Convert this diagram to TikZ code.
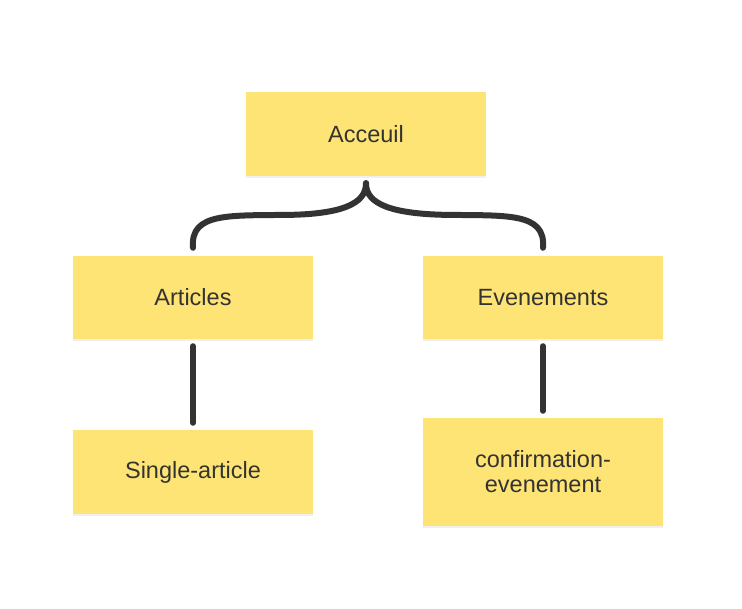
\documentclass[tikz,border=0pt]{standalone}
\usepackage{fontspec}
\setmainfont{Liberation Sans}
\usetikzlibrary{calc,shadows}
\definecolor{notejaune}{HTML}{FEE474}
\definecolor{encre}{HTML}{333333}
\begin{document}
\begin{tikzpicture}[x=1pt, y=-1pt,
    page/.style={fill=notejaune, minimum width=240pt, minimum height=84pt, inner sep=0pt,
      align=center, text=encre, font=\fontsize{23.5}{25}\selectfont,
      drop shadow={opacity=0.12, shadow xshift=0pt, shadow yshift=-2pt}},
    lien/.style={draw=encre, line width=6pt, line cap=round}]
    \useasboundingbox (0,0) rectangle (742,609);

    \node[page] (acc) at (366,134) {Acceuil};
    \node[page, minimum height=83pt] (art) at (193,297.5) {Articles};
    \node[page, minimum height=83pt] (evt) at (543,297.5) {Evenements};
    \node[page] (single) at (193,472) {Single-article};
    \node[page, minimum height=108pt] (conf) at (543,472) {confirmation-\\evenement};

    % accolade sous l'accueil
    \coordinate (pointe) at ($(acc.south)+(0,7)$);
    \coordinate (gauche) at ($(art.north)+(0,-8)$);
    \coordinate (droite) at ($(evt.north)+(0,-8)$);
    \draw[lien] (gauche) .. controls ($(gauche)+(-3,-36)$) and ($(gauche)+(37,-32)$) .. ($(gauche)+(100,-33)$)
      .. controls ($(pointe)+(-14,30)$) and ($(pointe)+(0,16)$) .. (pointe);
    \draw[lien] (droite) .. controls ($(droite)+(3,-36)$) and ($(droite)+(-37,-32)$) .. ($(droite)+(-100,-33)$)
      .. controls ($(pointe)+(14,30)$) and ($(pointe)+(0,16)$) .. (pointe);

    \draw[lien] ($(art.south)+(0,7)$) -- ($(single.north)+(0,-7)$);
    \draw[lien] ($(evt.south)+(0,7)$) -- ($(conf.north)+(0,-7)$);
\end{tikzpicture}
\end{document}
